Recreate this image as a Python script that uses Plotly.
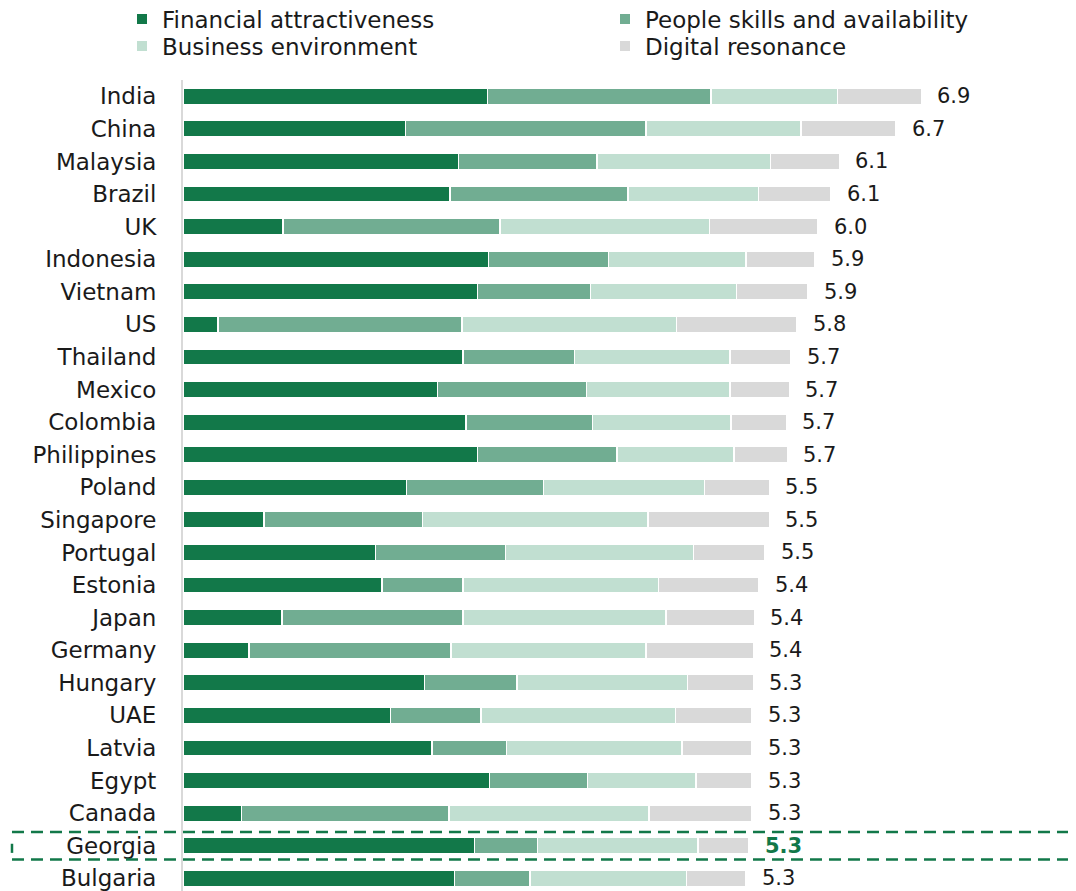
import plotly.graph_objects as go

countries = ["India", "China", "Malaysia", "Brazil", "UK", "Indonesia", "Vietnam", "US",
             "Thailand", "Mexico", "Colombia", "Philippines", "Poland", "Singapore",
             "Portugal", "Estonia", "Japan", "Germany", "Hungary", "UAE", "Latvia",
             "Egypt", "Canada", "Georgia", "Bulgaria"]

financial = [2.86, 2.09, 2.59, 2.51, 0.94, 2.87, 2.77, 0.33, 2.63, 2.39, 2.66, 2.77, 2.10,
             0.76, 1.81, 1.87, 0.93, 0.62, 2.27, 1.95, 2.34, 2.88, 0.55, 2.74, 2.55]
people = [2.10, 2.26, 1.30, 1.67, 2.04, 1.13, 1.06, 2.29, 1.05, 1.40, 1.19, 1.31, 1.29,
          1.49, 1.22, 0.76, 1.70, 1.90, 0.87, 0.85, 0.70, 0.92, 1.95, 0.59, 0.71]
business = [1.19, 1.46, 1.63, 1.23, 1.97, 1.29, 1.37, 2.02, 1.46, 1.35, 1.30, 1.10, 1.51,
            2.12, 1.77, 1.84, 1.91, 1.83, 1.60, 1.83, 1.65, 1.02, 1.88, 1.51, 1.47]
digital = [0.79, 0.89, 0.65, 0.68, 1.02, 0.65, 0.67, 1.13, 0.57, 0.56, 0.52, 0.50, 0.61,
           1.14, 0.67, 0.94, 0.83, 1.01, 0.62, 0.72, 0.66, 0.53, 0.97, 0.48, 0.56]
totals = ["6.9", "6.7", "6.1", "6.1", "6.0", "5.9", "5.9", "5.8", "5.7", "5.7", "5.7", "5.7",
          "5.5", "5.5", "5.5", "5.4", "5.4", "5.4", "5.3", "5.3", "5.3", "5.3", "5.3", "5.3", "5.3"]

series_names = ["Financial attractiveness", "People skills and availability",
                "Business environment", "Digital resonance"]
series_values = [financial, people, business, digital]
series_colors = ["#127849", "#71ad92", "#c1dfd1", "#d9d9d9"]
legend_rows = ["legend", "legend", "legend2", "legend2"]

highlight = "Georgia"
FONT = "DejaVu Sans"
TEXT_COLOR = "#1a1a1a"
GREEN = "#127849"

fig = go.Figure()
for name, vals, col, lg in zip(series_names, series_values, series_colors, legend_rows):
    fig.add_trace(go.Bar(
        y=countries, x=vals, name=name, orientation="h",
        marker=dict(color=col, line=dict(color="white", width=1.5)),
        hoverinfo="x+y", legend=lg,
    ))

for i, c in enumerate(countries):
    s = financial[i] + people[i] + business[i] + digital[i]
    is_h = c == highlight
    fig.add_annotation(
        x=s, y=c, text=("<b>%s</b>" % totals[i]) if is_h else totals[i],
        xanchor="left", yanchor="middle", xshift=14, showarrow=False,
        font=dict(family=FONT, size=21, color=GREEN if is_h else TEXT_COLOR),
    )

# highlight dashed lines around Georgia row
gi = countries.index(highlight)
dash_line = dict(color=GREEN, width=2.5, dash="12px,7px")
for yy in (gi - 0.42, gi + 0.42):
    fig.add_shape(type="line", xref="paper", yref="y",
                  x0=-0.1898, x1=1.02, y0=yy, y1=yy, line=dash_line, layer="above")
fig.add_shape(type="line", xref="paper", yref="y",
              x0=-0.1898, x1=-0.1898, y0=gi - 0.06, y1=gi + 0.22,
              line=dict(color=GREEN, width=2.5), layer="above")

leg_common = dict(
    orientation="h", xanchor="left", yanchor="middle",
    entrywidth=438, entrywidthmode="pixels",
    font=dict(family=FONT, size=23, color=TEXT_COLOR),
    traceorder="normal", itemsizing="constant", bgcolor="rgba(0,0,0,0)",
)

fig.update_layout(
    width=1076, height=891,
    margin=dict(l=175, r=0, t=72, b=8, autoexpand=False),
    paper_bgcolor="white", plot_bgcolor="white",
    barmode="stack", bargap=0.5,
    font=dict(family=FONT, size=21, color=TEXT_COLOR),
    showlegend=True,
    legend=dict(x=-0.0677, y=1.0752, **leg_common),
    legend2=dict(x=-0.0677, y=1.0419, **leg_common),
    xaxis=dict(range=[0, 8.468], visible=False, fixedrange=True),
    yaxis=dict(
        type="category", range=[24.39, -0.5],
        showline=True, linecolor="#d9d9d9", linewidth=2,
        ticks="outside", ticklen=20, tickcolor="rgba(0,0,0,0)",
        showgrid=False, zeroline=False,
        tickfont=dict(family=FONT, size=23, color=TEXT_COLOR),
    ),
)

fig.write_html("out.html")
